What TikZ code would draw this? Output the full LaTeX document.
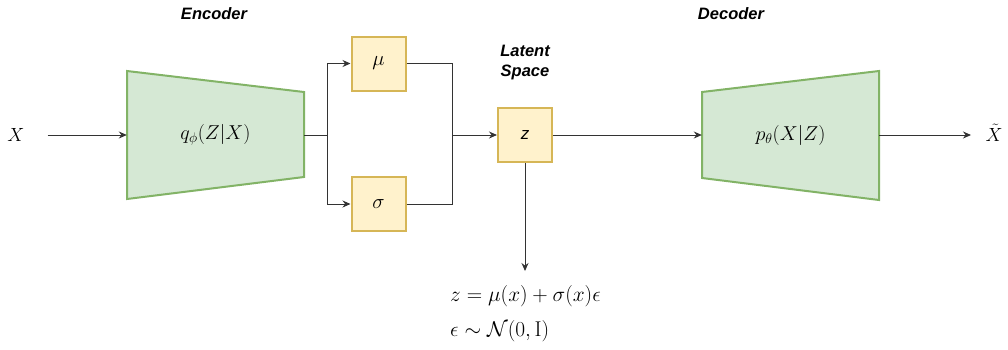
\documentclass[tikz,border=0pt]{standalone}
\usepackage{amsmath}
\usepackage{graphicx}
\usepackage{fontspec}
\newfontfamily\arialfont{Liberation Sans}
\usetikzlibrary{arrows.meta}
\definecolor{gfill}{HTML}{D5E8D4}
\definecolor{gdraw}{HTML}{82B366}
\definecolor{yfill}{HTML}{FFF2CC}
\definecolor{ydraw}{HTML}{D6B656}
\definecolor{ln}{HTML}{333333}
\newcommand{\mlbl}[1]{\scalebox{0.92}{$#1$}}
\newcommand{\tlbl}[1]{\scalebox{0.97}{$#1$}}
\newcommand{\eqsc}[1]{\scalebox{1.03}{$#1$}}
\tikzset{
  ybox/.style={draw=ydraw, fill=yfill, line width=2pt, minimum width=54pt, minimum height=54pt, inner sep=0pt},
  trap/.style={draw=gdraw, fill=gfill, line width=2pt, line join=miter},
  anchorbox/.style={minimum height=85pt, inner sep=0pt},
  title/.style={font=\arialfont\bfseries\itshape\fontsize{16.5}{20}\selectfont, align=center},
  mathlbl/.style={font=\fontsize{20.74}{24}\selectfont},
  eqlbl/.style={font=\fontsize{20.74}{24}\selectfont, anchor=west, inner sep=0pt},
  conn/.style={draw=ln, line width=1pt},
  arr/.style={conn, -{Stealth[length=8pt,width=7pt]}}
}
\begin{document}
\begin{tikzpicture}[x=1pt,y=-1pt]
\useasboundingbox (0,0) rectangle (1008,349);
% trapezoids
\draw[trap] (127,71) -- (304,92) -- (304,177) -- (127,199) -- cycle;
\draw[trap] (702,92) -- (879,71) -- (879,200) -- (702,178) -- cycle;
\node[anchorbox, minimum width=177pt, mathlbl] (enc) at (215.5,135) {\tlbl{q_\phi(Z|X)}};
\node[anchorbox, minimum width=177pt, mathlbl] (dec) at (790.5,135) {\tlbl{p_\theta(X|Z)}};
% titles
\node[title] (enct) at (214,14) {Encoder};
\node[title] (dect) at (731,14) {Decoder};
\node[title] (latt) at (525,63) {Latent\\Space};
% boxes
\node[ybox, font=\fontsize{20.74}{22}\selectfont] (mu) at (378.5,63.5) {$\mu$};
\node[ybox, font=\fontsize{20.74}{22}\selectfont] (sig) at (378.5,204) {$\sigma$};
\node[ybox, font=\arialfont\itshape\fontsize{17}{20}\selectfont] (z) at (525,135) {z};
% in/out labels
\node[mathlbl, inner sep=0pt] (xin) at (16,135) {\mlbl{X}};
\node[mathlbl, inner sep=0pt, anchor=base] (xout) at (994,141) {\mlbl{\tilde{X}}};
% junctions
\coordinate (j1) at (327,135);
\coordinate (j2) at (452,135);
\coordinate (zdown) at (525,271);
\coordinate (xend) at (971,135);
% connectors
\draw[arr] ([xshift=23pt]xin.east) -- (enc.west);
\draw[conn] (enc.east) -- (j1);
\draw[arr] (j1) |- (mu.west);
\draw[arr] (j1) |- (sig.west);
\draw[conn] (mu.east) -| (j2);
\draw[conn] (sig.east) -| (j2);
\draw[arr] (j2) -- (z.west);
\draw[arr] (z.south) -- (zdown);
\draw[arr] (z.east) -- (dec.west);
\draw[arr] (dec.east) -- (xend);
% equations
\node[eqlbl] (eq1) at (450,296) {\eqsc{z = \mu(x) + \sigma(x)\epsilon}};
\node[eqlbl] (eq2) at (450,331) {\eqsc{\epsilon \sim \mathcal{N}(0,\mathrm{I})}};
\end{tikzpicture}
\end{document}
